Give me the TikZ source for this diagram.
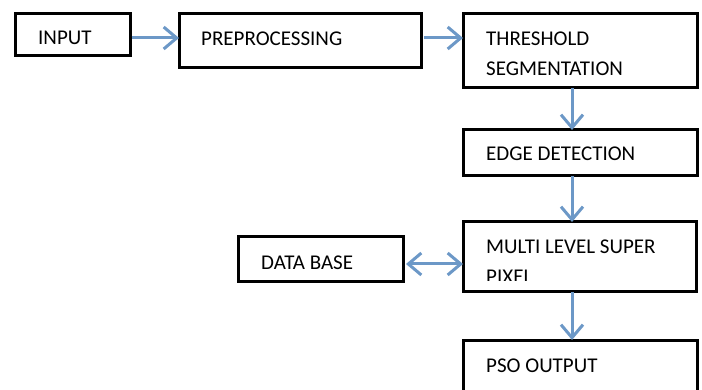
\documentclass[tikz,border=0pt]{standalone}
\usepackage{fontspec}
\setmainfont{Carlito}
\usetikzlibrary{arrows.meta}
\definecolor{arrblue}{RGB}{108,152,199}
\tikzset{
  box/.style={draw=black, line width=3pt, rectangle, inner sep=0pt, outer sep=0pt},
  lbl/.style={anchor=base west, inner sep=0pt, font=\fontsize{21}{30}\selectfont},
  arr/.style={draw=arrblue, line width=3pt, -{Straight Barb[length=13pt,width=22pt,line width=3pt]}},
  darr/.style={draw=arrblue, line width=3pt, {Straight Barb[length=13pt,width=22pt,line width=3pt]}-{Straight Barb[length=13pt,width=22pt,line width=3pt]}}
}
\begin{document}
\begin{tikzpicture}[x=1pt,y=-1pt]
\clip (0,0) rectangle (702,390);
\fill[white] (0,0) rectangle (702,390);
% boxes
\node[box, minimum width=115pt, minimum height=42pt] (input) at (72.5,35) {};
\node[box, minimum width=242pt, minimum height=54pt] (pre) at (300,41) {};
\node[box, minimum width=234pt, minimum height=74pt] (thr) at (580,51) {};
\node[box, minimum width=234pt, minimum height=46pt] (edge) at (580,153) {};
\node[box, minimum width=233pt, minimum height=70pt] (multi) at (579.5,257) {};
\node[box, minimum width=165pt, minimum height=45pt] (db) at (320.5,259.5) {};
\node[box, minimum width=234pt, minimum height=64pt] (pso) at (580,372) {};
% texts
\node[lbl] (tinput) at (38,45) {INPUT};
\node[lbl] (tpre) at (201,46) {PREPROCESSING};
\node[lbl] (tthr1) at (486,46) {THRESHOLD};
\node[lbl] (tthr2) at (486,76) {SEGMENTATION};
\node[lbl] (tedge) at (486,161) {EDGE DETECTION};
\node[lbl] (tmulti1) at (486,254) {MULTI LEVEL SUPER};
\begin{scope}
\clip (470,260) rectangle (690,281);
\node[lbl] (tmulti2) at (486,284) {PIXEL};
\end{scope}
\node[lbl] (tdb) at (261,270) {DATA BASE};
\node[lbl] (tpso) at (486,372) {PSO OUTPUT};
% connectors
\draw[arr] ([xshift=1.5pt,yshift=-3pt]input.east) -- ([yshift=-3pt]pre.west |- input.east);
\draw[arr] ([xshift=3pt,yshift=3pt]pre.east) -- ([yshift=3pt]pre.east -| thr.west);
\draw[arr] ([xshift=-8pt]thr.south) -- ([xshift=-8pt]edge.north);
\draw[arr] ([xshift=-8pt]edge.south) -- ([xshift=-7.5pt]multi.north);
\draw[arr] ([xshift=-7.5pt]multi.south) -- ([xshift=-8pt]pso.north);
\draw[darr] ([xshift=3pt,yshift=-4.5pt]db.east) -- ([yshift=-4.5pt]db.east -| multi.west);
\end{tikzpicture}
\end{document}
